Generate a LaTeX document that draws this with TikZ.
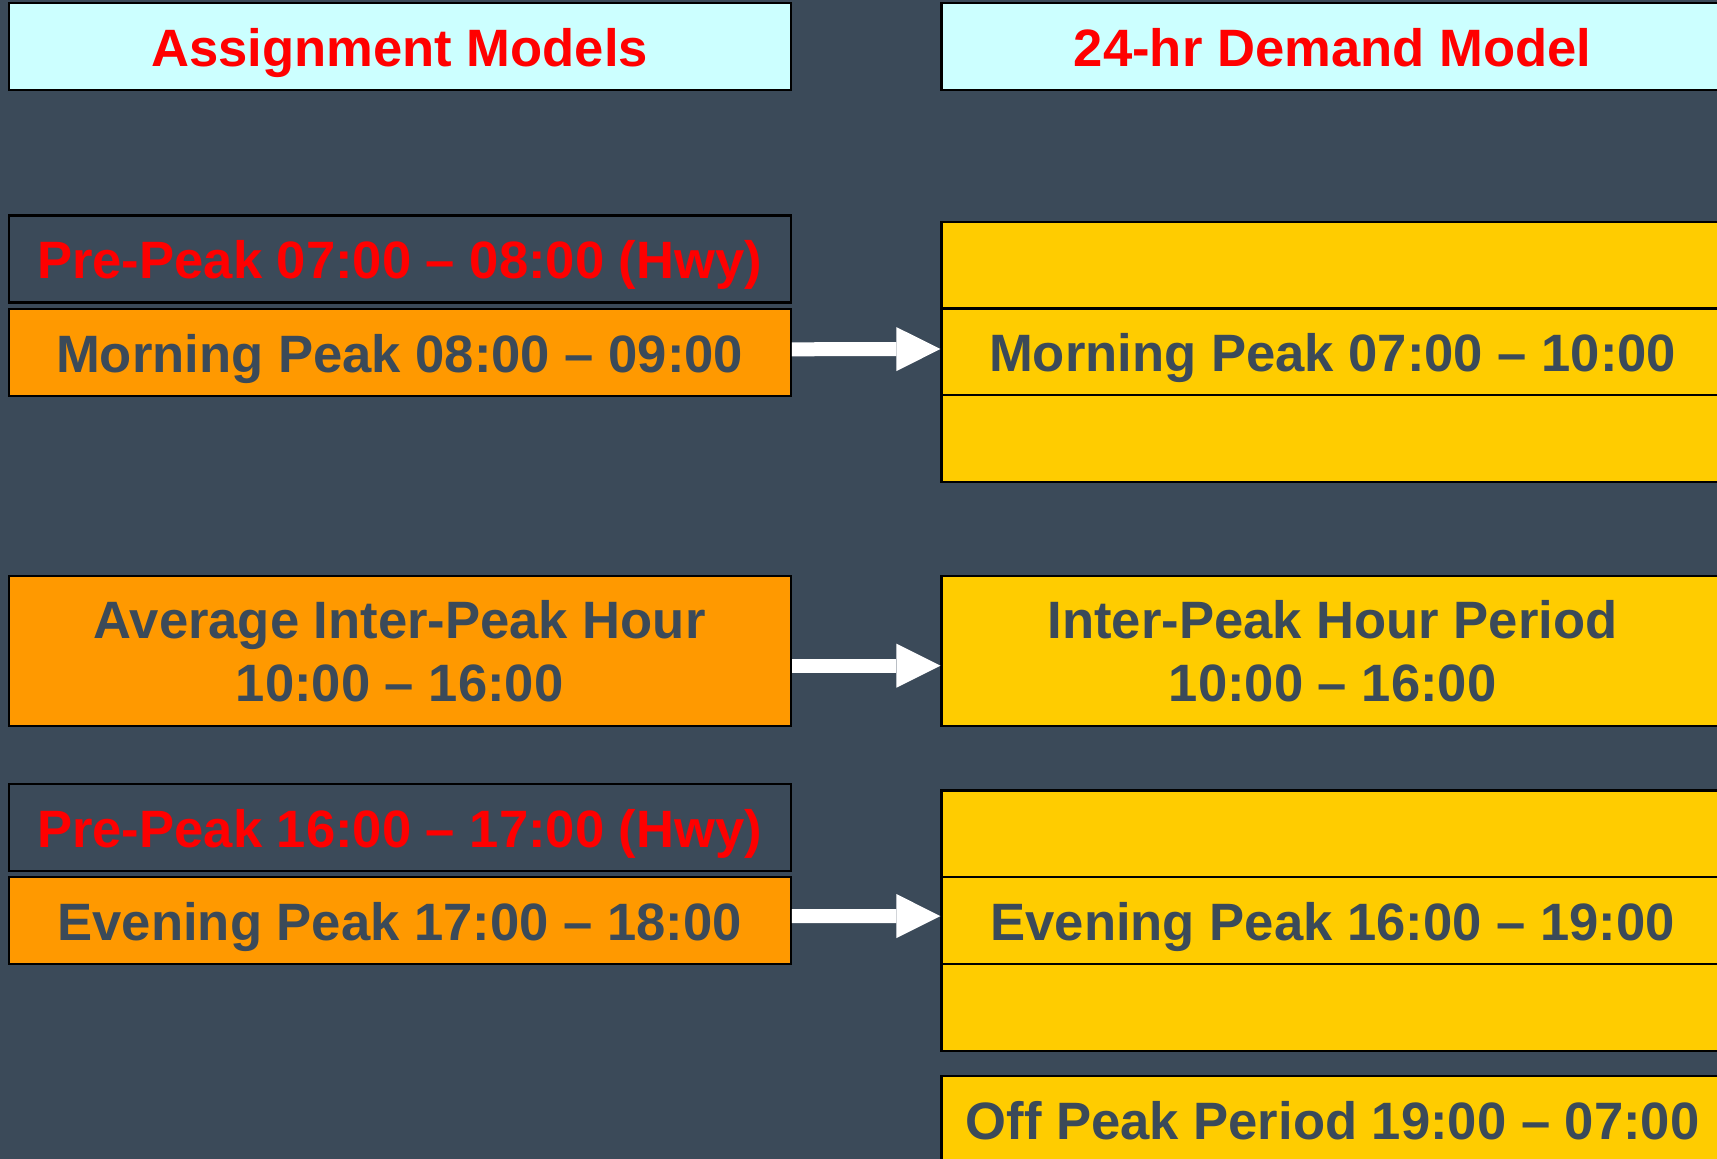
\documentclass[tikz,border=0pt]{standalone}
\usepackage{fontspec}
\setmainfont{Liberation Sans}
\usetikzlibrary{arrows.meta}
\definecolor{slate}{HTML}{3B4A59}
\definecolor{paleaqua}{HTML}{CCFFFF}
\definecolor{amber}{HTML}{FF9900}
\definecolor{gold}{HTML}{FFCC00}
\begin{document}
\begin{tikzpicture}[x=0.5pt,y=-0.5pt,
    box/.style={draw=black,line width=1.2pt,minimum width=391pt,minimum height=43.5pt,
      inner sep=0pt,align=center,text=slate,text height=26pt,text depth=6pt,
      font=\bfseries\fontsize{26.3}{31.75}\selectfont},
    twoline/.style={text height=,text depth=},
    header/.style={box,fill=paleaqua,text=red},
    prepeak/.style={box,fill=slate,text=red},
    assign/.style={box,fill=amber},
    demand/.style={box,fill=gold},
    bigarrow/.style={draw=white,line width=7pt,
      -{Triangle[length=22pt,width=22pt,line width=0pt]}}]
    \useasboundingbox (0,0) rectangle (1717,1159);
    \clip (0,0) rectangle (1717,1159);
    \fill [slate] (0,0) rectangle (1717,1159);
    % headers
    \node [header] (hdrA) at (399.7,46.6) {Assignment Models};
    \node [header] (hdrD) at (1332.6,46.6) {24-hr Demand Model};
    % assignment models
    \node [prepeak] (preAM) at (399.7,258.9) {Pre-Peak 07:00 – 08:00 (Hwy)};
    \node [assign] (morn) at (399.7,352.3) {Morning Peak 08:00 – 09:00};
    \node [assign,twoline,minimum height=75pt] (inter) at (399.7,651) {Average Inter-Peak Hour\\10:00 – 16:00};
    \node [prepeak] (prePM) at (399.7,827.3) {Pre-Peak 16:00 – 17:00 (Hwy)};
    \node [assign] (eve) at (399.7,920.5) {Evening Peak 17:00 – 18:00};
    % demand model
    \node [demand] (dmTop) at (1332.6,265.5) {};
    \node [demand] (dmMorn) at (1332.6,352) {Morning Peak 07:00 – 10:00};
    \node [demand] (dmLow) at (1332.6,438.5) {};
    \node [demand,twoline,minimum height=75pt] (dmInter) at (1332.6,651) {Inter-Peak Hour Period\\10:00 – 16:00};
    \node [demand] (deTop) at (1332.6,834) {};
    \node [demand] (dmEve) at (1332.6,920.6) {Evening Peak 16:00 – 19:00};
    \node [demand] (deLow) at (1332.6,1007.3) {};
    \node [demand] (dmOff) at (1332.6,1119.2) {Off Peak Period 19:00 – 07:00};
    % arrows
    \draw [bigarrow] ([yshift=1.5pt]morn.east) -- ([yshift=1.5pt]dmMorn.west);
    \draw [bigarrow] ([yshift=-7.35pt]inter.east) -- ([yshift=-7.35pt]dmInter.west);
    \draw [bigarrow] ([yshift=2.25pt]eve.east) -- ([yshift=2.25pt]dmEve.west);
\end{tikzpicture}
\end{document}
